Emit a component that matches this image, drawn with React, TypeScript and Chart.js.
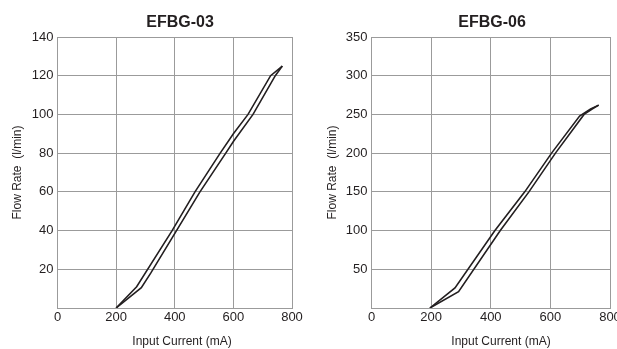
import React, { useEffect, useRef } from "react";
import { Chart, registerables } from "chart.js";

Chart.register(...registerables);

const FONT = "'Liberation Sans', Arial, sans-serif";
const INK = "#231f20";
const GRID = "#9b9b9b";

// shared axis definitions
const xMin = 0;
const xMax = 800;
const xStep = 200;
const xAxisTitle = "Input Current (mA)";
const yAxisTitle = "Flow Rate  (l/min)";

// EFBG-03
const efbg03Title = "EFBG-03";
const efbg03YMax = 140;
const efbg03YStep = 20;
const efbg03RiseCurrent = [200, 286, 318, 406, 486, 574, 600, 667, 743, 767];
const efbg03RiseFlow = [0, 10.5, 18, 40, 60, 80, 86, 100, 120, 125];
const efbg03FallCurrent = [200, 270, 391, 469, 555, 600, 650, 727, 767];
const efbg03FallFlow = [0, 11, 40, 60, 80, 90, 100, 120, 125];

// EFBG-06
const efbg06Title = "EFBG-06";
const efbg06YMax = 350;
const efbg06YStep = 50;
const efbg06RiseCurrent = [196, 292, 432, 528, 617, 713, 740, 762];
const efbg06RiseFlow = [0, 21, 100, 150, 200, 250, 257, 262];
const efbg06FallCurrent = [196, 280, 414, 514, 604, 698, 735, 762];
const efbg06FallFlow = [0, 26, 100, 150, 200, 248, 257, 262];

const toPoints = (xs: number[], ys: number[]) => xs.map((x, i) => ({ x, y: ys[i] }));

type Spec = {
  title: string;
  yMax: number;
  yStep: number;
  rise: { x: number; y: number }[];
  fall: { x: number; y: number }[];
  left: number;
  width: number;
  yWidth: number;
  rightPad: number;
  yTitlePad: number;
  titleX: number;
  xTitleX: number;
};

const HEIGHT = 349;
const TOP = 37;
const AXIS_BOTTOM = 308;

function FlowChart({ spec }: { spec: Spec }) {
  const ref = useRef<HTMLCanvasElement>(null);
  useEffect(() => {
    const captions = {
      id: "captions",
      afterDraw(chart: any) {
        const ctx = chart.ctx;
        ctx.save();
        ctx.fillStyle = INK;
        ctx.textAlign = "center";
        ctx.textBaseline = "alphabetic";
        ctx.font = `bold 16px ${FONT}`;
        ctx.fillText(spec.title, spec.titleX, 26.5);
        ctx.font = `12px ${FONT}`;
        ctx.fillText(xAxisTitle, spec.xTitleX, 344.5);
        ctx.restore();
      },
    };
    const lineStyle = {
      showLine: true,
      borderColor: INK,
      backgroundColor: INK,
      borderWidth: 1.6,
      pointRadius: 0,
      tension: 0,
      fill: false,
    };
    const chart = new Chart(ref.current as HTMLCanvasElement, {
      type: "scatter",
      data: {
        datasets: [
          { ...lineStyle, label: "rise", data: spec.rise },
          { ...lineStyle, label: "fall", data: spec.fall },
        ],
      },
      options: {
        responsive: false,
        animation: false,
        devicePixelRatio: 1,
        layout: { padding: { top: TOP, left: 0, right: spec.rightPad, bottom: 0 } },
        plugins: {
          legend: { display: false },
          tooltip: { enabled: false },
          title: { display: false },
        },
        scales: {
          x: {
            type: "linear",
            min: xMin,
            max: xMax,
            ticks: {
              stepSize: xStep,
              padding: 2,
              color: INK,
              font: { family: FONT, size: 13 },
              maxRotation: 0,
              autoSkip: false,
            },
            grid: { color: GRID, lineWidth: 1, drawTicks: false },
            border: { color: GRID, width: 1 },
            afterFit: (s: any) => {
              s.height = HEIGHT - AXIS_BOTTOM;
              s.paddingLeft = 0;
              s.paddingRight = 0;
            },
          },
          y: {
            type: "linear",
            min: 0,
            max: spec.yMax,
            ticks: {
              stepSize: spec.yStep,
              padding: 4,
              color: INK,
              font: { family: FONT, size: 13 },
              callback: (v: any) => (Number(v) === 0 ? "" : String(v)),
            },
            grid: { color: GRID, lineWidth: 1, drawTicks: false },
            border: { color: GRID, width: 1 },
            title: {
              display: true,
              text: yAxisTitle,
              color: INK,
              font: { family: FONT, size: 12 },
              padding: { top: spec.yTitlePad, bottom: 0 },
            },
            afterFit: (s: any) => {
              s.width = spec.yWidth;
              s.paddingTop = 0;
              s.paddingBottom = 0;
            },
          },
        },
      },
      plugins: [captions],
    } as any);
    return () => chart.destroy();
  }, [spec]);
  return (
    <canvas
      ref={ref}
      width={spec.width}
      height={HEIGHT}
      style={{ position: "absolute", left: spec.left, top: 0, width: spec.width, height: HEIGHT }}
    />
  );
}

const specs: Spec[] = [
  {
    title: efbg03Title,
    yMax: efbg03YMax,
    yStep: efbg03YStep,
    rise: toPoints(efbg03RiseCurrent, efbg03RiseFlow),
    fall: toPoints(efbg03FallCurrent, efbg03FallFlow),
    left: 0,
    width: 308,
    yWidth: 57.5,
    rightPad: 308 - 292,
    yTitlePad: 10,
    titleX: 180,
    xTitleX: 182,
  },
  {
    title: efbg06Title,
    yMax: efbg06YMax,
    yStep: efbg06YStep,
    rise: toPoints(efbg06RiseCurrent, efbg06RiseFlow),
    fall: toPoints(efbg06FallCurrent, efbg06FallFlow),
    left: 308,
    width: 309,
    yWidth: 63.5,
    rightPad: 309 - (610 - 308),
    yTitlePad: 17,
    titleX: 184,
    xTitleX: 193,
  },
];

export default function App() {
  return (
    <div style={{ position: "fixed", left: 0, top: 0, width: 617, height: HEIGHT, background: "#fff", overflow: "hidden" }}>
      {specs.map((s) => (
        <FlowChart key={s.title} spec={s} />
      ))}
    </div>
  );
}
